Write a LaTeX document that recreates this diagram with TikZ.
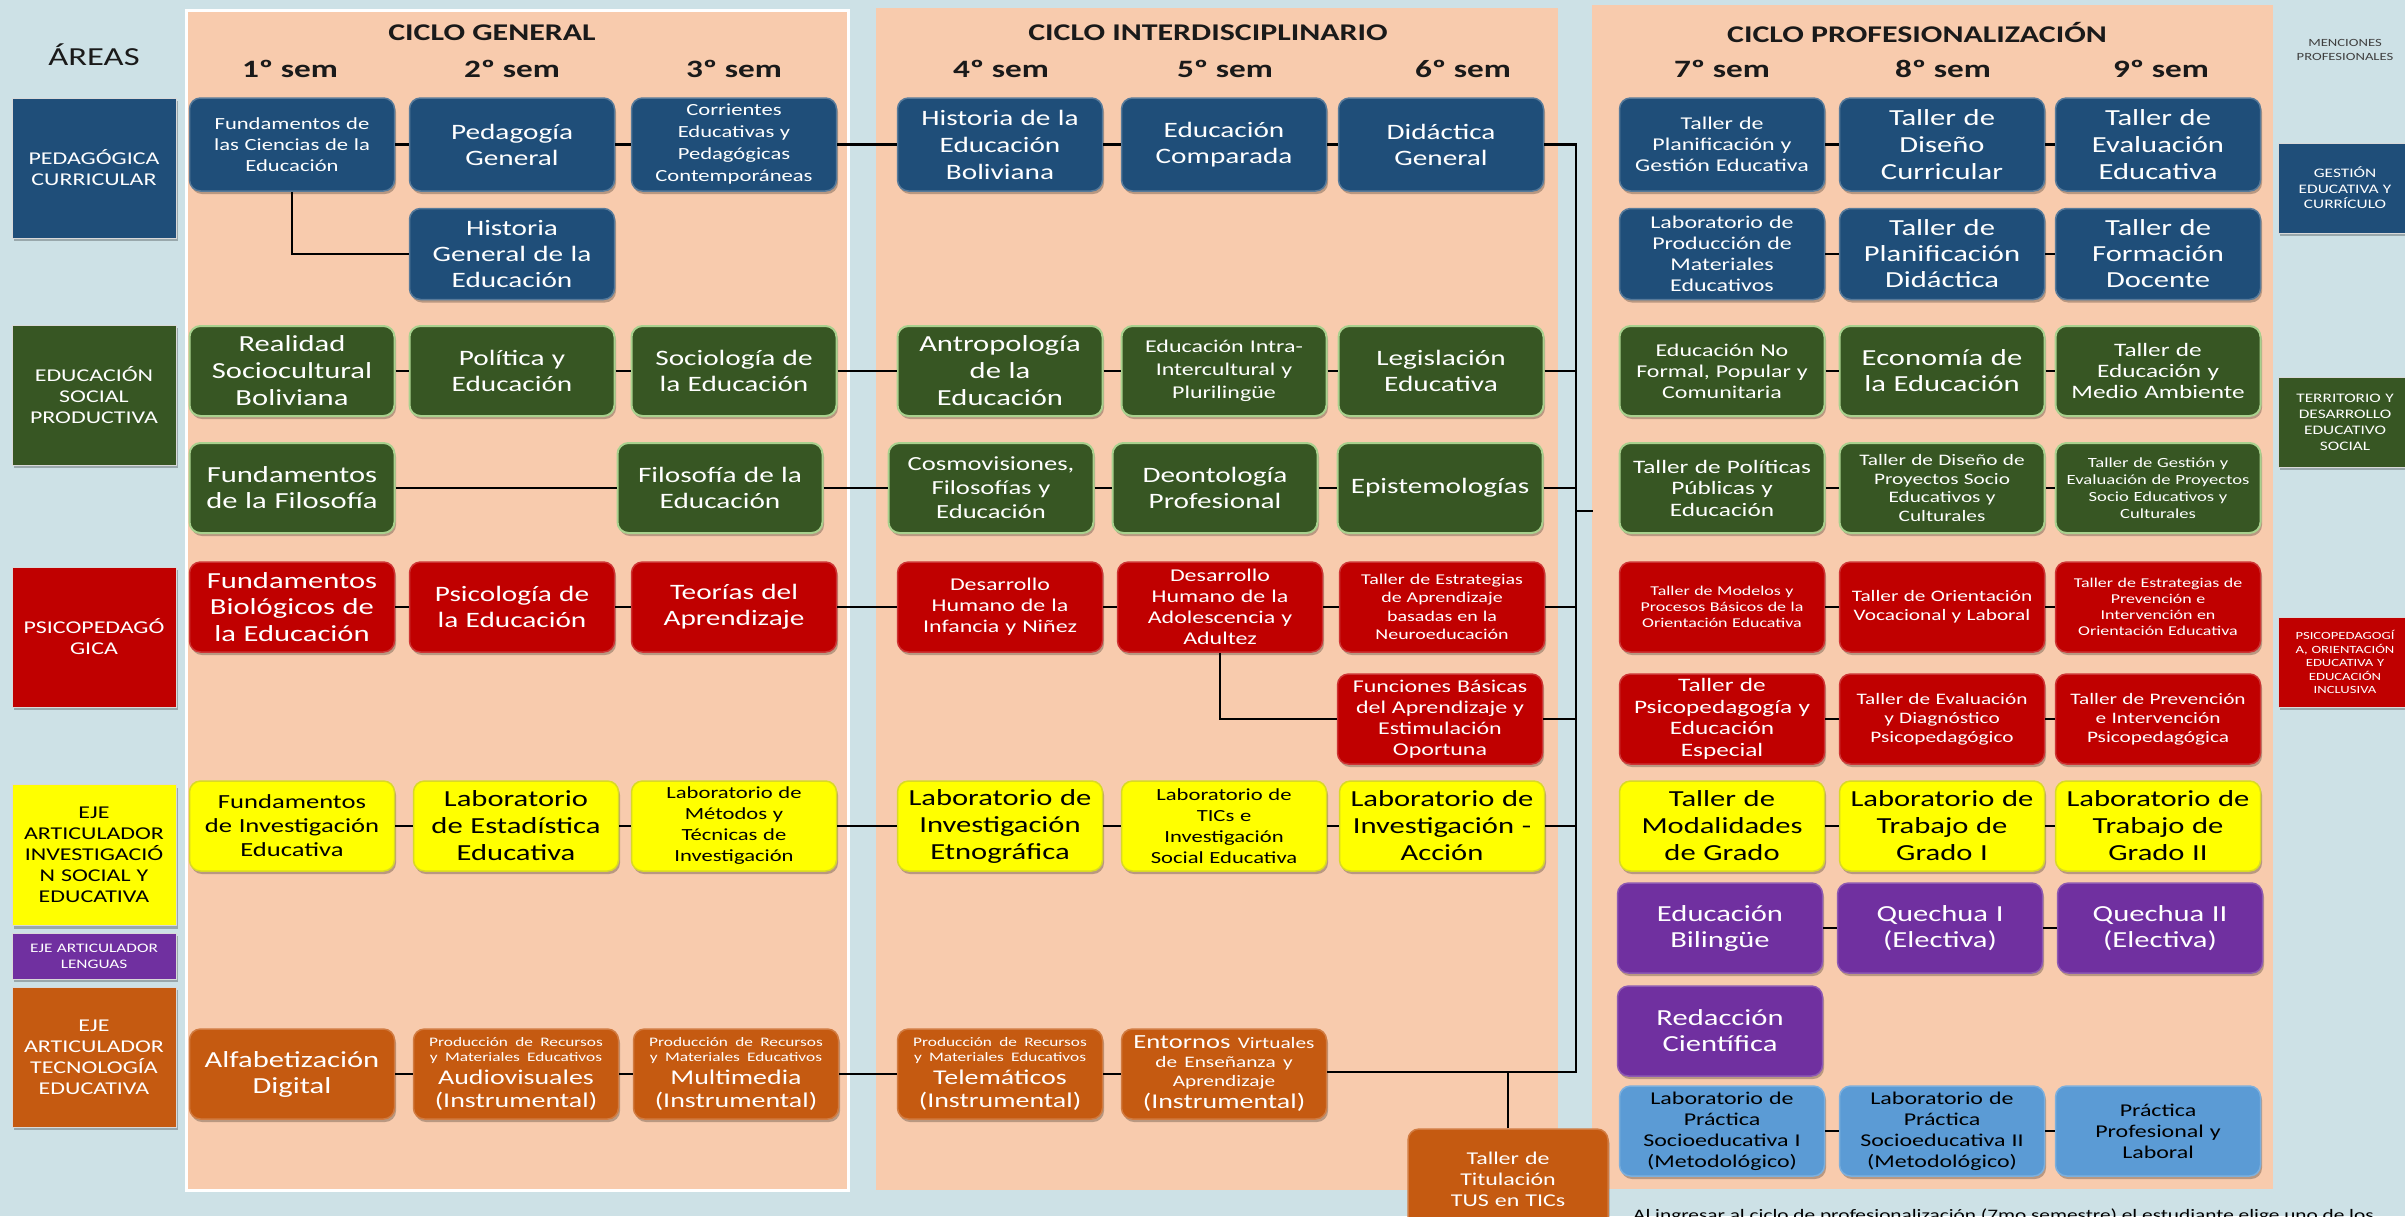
\documentclass[tikz,border=0pt]{standalone}
\usepackage{fontspec}
\setmainfont{Carlito}[FakeStretch=1.33]
\usetikzlibrary{shadows}
\definecolor{bgc}{HTML}{CDE1E6}
\definecolor{panel}{HTML}{F8CBAD}
\definecolor{cblue}{HTML}{1F4E79}
\definecolor{cgreen}{HTML}{375623}
\definecolor{cgreenb}{HTML}{A9D18E}
\definecolor{cred}{HTML}{C00000}
\definecolor{cyel}{HTML}{FFFF00}
\definecolor{cpur}{HTML}{7030A0}
\definecolor{corg}{HTML}{C55A11}
\definecolor{clb}{HTML}{5B9BD5}
\definecolor{txtd}{HTML}{1A1A1A}
\tikzset{
  fz/.style 2 args={font=\fontsize{#1}{#2}\selectfont},
  shd/.style={drop shadow={shadow xshift=1.5pt,shadow yshift=-3pt,opacity=0.25,fill=black}},
  crs/.style={rounded corners=11pt, minimum width=205pt, minimum height=90pt, text width=199pt,
    align=center, inner sep=0pt, fz={22}{26}, shd, line width=1.5pt},
  bxB/.style={crs, fill=cblue, draw=cblue!75!white, text=white},
  bxG/.style={crs, fill=cgreen, draw=cgreenb, line width=2pt, text=white},
  bxR/.style={crs, fill=cred, draw=cred!80!white, text=white},
  bxY/.style={crs, fill=cyel, draw=cyel!70!gray, text=black},
  bxP/.style={crs, fill=cpur, draw=cpur!80!white, text=white},
  bxO/.style={crs, fill=corg, draw=corg!80!white, text=white},
  bxL/.style={crs, fill=clb, draw=clb!80!white, text=black},
  area/.style={minimum width=164pt, minimum height=140pt, text width=160pt, align=center,
    inner sep=0pt, fz={18}{21}, shd, draw=white!70!gray, line width=1pt},
  menc/.style={minimum width=134pt, minimum height=90pt, text width=130pt, align=center,
    inner sep=0pt, fz={13}{15.5}, shd, draw=white!70!gray, line width=1pt, text=white},
  head/.style={font=\fontsize{24}{28}\selectfont\bfseries, text=txtd, inner sep=0pt},
  semh/.style={font=\fontsize{25}{28}\selectfont\bfseries, text=txtd, inner sep=0pt},
  conn/.style={draw=black, line width=2.5pt},
}
\begin{document}
\begin{tikzpicture}[x=1pt,y=-1pt]
\useasboundingbox (0,0) rectangle (2405,1216);
\clip (0,0) rectangle (2405,1216);
\fill[bgc] (0,0) rectangle (2405,1216);
% panels
\fill[panel, draw=white, line width=3pt] (186,10) rectangle (848,1190);
\fill[panel] (876,8) rectangle (1558,1190);
\fill[panel] (1592,5) rectangle (2273,1189);

% headers
\node[fz={26}{30}, text=txtd] (areas) at (94,55) {ÁREAS};
\node[head] (hg) at (492,33) {CICLO GENERAL};
\node[head] (hi) at (1208,33) {CICLO INTERDISCIPLINARIO};
\node[head] (hp) at (1917,33) {CICLO PROFESIONALIZACIÓN};
\node[semh] (s1) at (290,69) {1º sem};
\node[semh] (s2) at (512,69) {2º sem};
\node[semh] (s3) at (734,69) {3º sem};
\node[semh] (s4) at (1001,69) {4º sem};
\node[semh] (s5) at (1225,69) {5º sem};
\node[semh] (s6) at (1463,69) {6º sem};
\node[semh] (s7) at (1722,69) {7º sem};
\node[semh] (s8) at (1943,69) {8º sem};
\node[semh] (s9) at (2161,69) {9º sem};
\node[fz={11}{13.5}, text=black!75, align=center, inner sep=0pt] (menh) at (2345,50) {MENCIONES\\PROFESIONALES};

% area boxes
\node[area, fill=cblue, text=white] (a1) at (94,168) {PEDAGÓGICA\\CURRICULAR};
\node[area, fill=cgreen, text=white] (a2) at (94,395) {EDUCACIÓN\\SOCIAL\\PRODUCTIVA};
\node[area, fill=cred, text=white] (a3) at (94,637) {PSICOPEDAGÓ\\GICA};
\node[area, fill=cyel, text=black, minimum height=141pt] (a4) at (94,855) {EJE\\ARTICULADOR\\INVESTIGACIÓ\\N SOCIAL Y\\EDUCATIVA};
\node[area, fill=cpur, text=white, minimum height=46pt, fz={13}{16}] (a5) at (94,956) {EJE ARTICULADOR\\LENGUAS};
\node[area, fill=corg, text=white] (a6) at (94,1057) {EJE\\ARTICULADOR\\TECNOLOGÍA\\EDUCATIVA};

% menciones
\node[menc, fill=cblue] (m1) at (2345,188) {GESTIÓN\\EDUCATIVA Y\\CURRÍCULO};
\node[menc, fill=cgreen, fz={13}{16}] (m2) at (2345,422) {TERRITORIO Y\\DESARROLLO\\EDUCATIVO\\SOCIAL};
\node[menc, fill=cred, fz={11}{13.5}] (m3) at (2345,662) {PSICOPEDAGOGÍ\\A, ORIENTACIÓN\\EDUCATIVA Y\\EDUCACIÓN\\INCLUSIVA};

% ---- Row 1 (blue)
\node[bxB, fz={17}{21}, minimum height=93pt] (p1) at (292,144.5) {Fundamentos de\\las Ciencias de la\\Educación};
\node[bxB, minimum height=93pt] (p2) at (512,144.5) {Pedagogía\\General};
\node[bxB, fz={17}{22}, minimum height=93pt] (p3) at (734,144.5) {Corrientes\\Educativas y\\Pedagógicas\\Contemporáneas};
\node[bxB, fz={22}{27}, minimum height=93pt] (p4) at (1000,144.5) {Historia de la\\Educación\\Boliviana};
\node[bxB, minimum height=93pt] (p5) at (1224,144.5) {Educación\\Comparada};
\node[bxB, minimum height=93pt] (p6) at (1441,144.5) {Didáctica\\General};
\node[bxB, fz={18}{21}, minimum height=93pt] (p7) at (1722,144.5) {Taller de\\Planificación y\\Gestión Educativa};
\node[bxB, fz={23}{27}, minimum height=93pt] (p8) at (1942,144.5) {Taller de\\Diseño\\Curricular};
\node[bxB, fz={23}{27}, minimum height=93pt] (p9) at (2158,144.5) {Taller de\\Evaluación\\Educativa};

% ---- Row 2 (blue)
\node[bxB, fz={22}{26}, minimum height=91pt] (h2) at (512,254) {Historia\\General de la\\Educación};
\node[bxB, fz={18}{21}, minimum height=91pt] (q7) at (1722,254) {Laboratorio de\\Producción de\\Materiales\\Educativos};
\node[bxB, fz={23}{26}, minimum height=91pt] (q8) at (1942,254) {Taller de\\Planificación\\Didáctica};
\node[bxB, fz={23}{26}, minimum height=91pt] (q9) at (2158,254) {Taller de\\Formación\\Docente};

% ---- Row 3 (green)
\node[bxG, fz={23}{27}] (g1) at (292,371) {Realidad\\Sociocultural\\Boliviana};
\node[bxG] (g2) at (512,371) {Política y\\Educación};
\node[bxG] (g3) at (734,371) {Sociología de\\la Educación};
\node[bxG, fz={23}{27}] (g4) at (1000,371) {Antropología\\de la\\Educación};
\node[bxG, fz={18}{23}] (g5) at (1224,371) {Educación Intra-\\Intercultural y\\Plurilingüe};
\node[bxG] (g6) at (1441,371) {Legislación\\Educativa};
\node[bxG, fz={18}{21}] (g7) at (1722,371) {Educación No\\Formal, Popular y\\Comunitaria};
\node[bxG, fz={23}{26}] (g8) at (1942,371) {Economía de\\la Educación};
\node[bxG, fz={19}{21}] (g9) at (2158,371) {Taller de\\Educación y\\Medio Ambiente};

% ---- Row 4 (green)
\node[bxG, fz={23}{26}] (f1) at (292,488) {Fundamentos\\de la Filosofía};
\node[bxG] (f3) at (720,488) {Filosofía de la\\Educación};
\node[bxG, fz={20}{24}] (f4) at (991,488) {Cosmovisiones,\\Filosofías y\\Educación};
\node[bxG, fz={22}{26}] (f5) at (1215,488) {Deontología\\Profesional};
\node[bxG] (f6) at (1440,488) {Epistemologías};
\node[bxG, fz={19}{21.5}] (f7) at (1722,488) {Taller de Políticas\\Públicas y\\Educación};
\node[bxG, fz={16}{18.5}] (f8) at (1942,488) {Taller de Diseño de\\Proyectos Socio\\Educativos y\\Culturales};
\node[bxG, fz={14}{17}] (f9) at (2158,488) {Taller de Gestión y\\Evaluación de Proyectos\\Socio Educativos y\\Culturales};

% ---- Row 5 (red)
\node[bxR, fz={23}{26.5}] (r1) at (292,607) {Fundamentos\\Biológicos de\\la Educación};
\node[bxR] (r2) at (512,607) {Psicología de\\la Educación};
\node[bxR] (r3) at (734,607) {Teorías del\\Aprendizaje};
\node[bxR, fz={18}{21}] (r4) at (1000,607) {Desarrollo\\Humano de la\\Infancia y Niñez};
\node[bxR, fz={18}{21}] (r5) at (1220,607) {Desarrollo\\Humano de la\\Adolescencia y\\Adultez};
\node[bxR, fz={15}{18.5}] (r6) at (1442,607) {Taller de Estrategias\\de Aprendizaje\\basadas en la\\Neuroeducación};
\node[bxR, fz={13.5}{16}] (r7) at (1722,607) {Taller de Modelos y\\Procesos Básicos de la\\Orientación Educativa};
\node[bxR, fz={16}{19}] (r8) at (1942,607) {Taller de Orientación\\Vocacional y Laboral};
\node[bxR, fz={13.5}{16}] (r9) at (2158,607) {Taller de Estrategias de\\Prevención e\\Intervención en\\Orientación Educativa};

% ---- Row 6 (red)
\node[bxR, fz={18}{21}] (s6b) at (1440,719) {Funciones Básicas\\del Aprendizaje y\\Estimulación\\Oportuna};
\node[bxR, fz={19}{21.5}] (s7b) at (1722,719) {Taller de\\Psicopedagogía y\\Educación\\Especial};
\node[bxR, fz={16}{19}] (s8b) at (1942,719) {Taller de Evaluación\\y Diagnóstico\\Psicopedagógico};
\node[bxR, fz={16}{19}] (s9b) at (2158,719) {Taller de Prevención\\e Intervención\\Psicopedagógica};

% ---- Row 7 (yellow)
\node[bxY, fz={20}{24}] (y1) at (292,826) {Fundamentos\\de Investigación\\Educativa};
\node[bxY, fz={23}{27}] (y2) at (516,826) {Laboratorio\\de Estadística\\Educativa};
\node[bxY, fz={17}{21}] (y3) at (734,826) {Laboratorio de\\Métodos y\\Técnicas de\\Investigación};
\node[bxY, fz={23}{27}] (y4) at (1000,826) {Laboratorio de\\Investigación\\Etnográfica};
\node[bxY, fz={17}{21}] (y5) at (1224,826) {Laboratorio de\\TICs e\\Investigación\\Social Educativa};
\node[bxY, fz={23}{27}] (y6) at (1442,826) {Laboratorio de\\Investigación -\\Acción};
\node[bxY, fz={23}{27}] (y7) at (1722,826) {Taller de\\Modalidades\\de Grado};
\node[bxY, fz={23}{27}] (y8) at (1942,826) {Laboratorio de\\Trabajo de\\Grado I};
\node[bxY, fz={23}{27}] (y9) at (2158,826) {Laboratorio de\\Trabajo de\\Grado II};

% ---- Row 8/9 (purple)
\node[bxP, fz={23}{26}] (l7) at (1720,928) {Educación\\Bilingüe};
\node[bxP, fz={23}{26}] (l8) at (1940,928) {Quechua I\\(Electiva)};
\node[bxP, fz={23}{26}] (l9) at (2160,928) {Quechua II\\(Electiva)};
\node[bxP, fz={23}{26}] (l7b) at (1720,1031) {Redacción\\Científica};

% ---- Row 10 (orange)
\node[bxO, fz={23}{26}] (t1) at (292,1074) {Alfabetización\\Digital};
\node[bxO] (t2) at (516,1074) {{\fontsize{13}{15.5}\selectfont Producción de Recursos\\y Materiales Educativos\par}{\fontsize{21}{23}\selectfont Audiovisuales\\(Instrumental)\par}};
\node[bxO] (t3) at (736,1074) {{\fontsize{13}{15.5}\selectfont Producción de Recursos\\y Materiales Educativos\par}{\fontsize{21}{23}\selectfont Multimedia\\(Instrumental)\par}};
\node[bxO] (t4) at (1000,1074) {{\fontsize{13}{15.5}\selectfont Producción de Recursos\\y Materiales Educativos\par}{\fontsize{21}{23}\selectfont Telemáticos\\(Instrumental)\par}};
\node[bxO] (t5) at (1224,1074) {{\fontsize{16}{19}\selectfont{\fontsize{20}{20}\selectfont Entornos} Virtuales\\de Enseñanza y\\Aprendizaje\par}{\fontsize{21}{22}\selectfont (Instrumental)\par}};

% ---- Row 11 (light blue)
\node[bxL, fz={18}{21}] (b7) at (1722,1131) {Laboratorio de\\Práctica\\Socioeducativa I\\(Metodológico)};
\node[bxL, fz={18}{21}] (b8) at (1942,1131) {Laboratorio de\\Práctica\\Socioeducativa II\\(Metodológico)};
\node[bxL, fz={18}{21}] (b9) at (2158,1131) {Práctica\\Profesional y\\Laboral};

% Taller de titulacion
\node[bxO, fz={18}{21}, minimum width=200pt, minimum height=100pt, text width=194pt] (tit) at (1508,1179) {Taller de\\Titulación\\TUS en TICs};

% bottom note
\node[fz={16}{19}, text=black, anchor=base west, inner sep=0pt] (note) at (1633,1220) {Al ingresar al ciclo de profesionalización (7mo semestre) el estudiante elige uno de los};

% ---- connectors
\coordinate (bus1) at (1576,144.5);
\coordinate (bus2) at (1576,1072);
\coordinate (stub) at (1593,511);
\draw[conn] (p1) -- (p2); \draw[conn] (p2) -- (p3); \draw[conn] (p3) -- (p4);
\draw[conn] (p4) -- (p5); \draw[conn] (p5) -- (p6);
\draw[conn] (p6.east) -- (bus1) -- (bus2) -- (bus2 -| t5.east);
\draw[conn] (p1.south) |- (h2.west);
\draw[conn] (p7) -- (p8); \draw[conn] (p8) -- (p9);
\draw[conn] (q7) -- (q8); \draw[conn] (q8) -- (q9);
\draw[conn] (g1) -- (g2); \draw[conn] (g2) -- (g3); \draw[conn] (g3) -- (g4);
\draw[conn] (g4) -- (g5); \draw[conn] (g5) -- (g6); \draw[conn] (g6.east) -- (g6.east -| bus1);
\draw[conn] (g7) -- (g8); \draw[conn] (g8) -- (g9);
\draw[conn] (f1) -- (f3); \draw[conn] (f3) -- (f4); \draw[conn] (f4) -- (f5);
\draw[conn] (f5) -- (f6); \draw[conn] (f6.east) -- (f6.east -| bus1);
\draw[conn] (f7) -- (f8); \draw[conn] (f8) -- (f9);
\draw[conn] (stub -| bus1) -- (stub);
\draw[conn] (r1) -- (r2); \draw[conn] (r2) -- (r3); \draw[conn] (r3) -- (r4);
\draw[conn] (r4) -- (r5); \draw[conn] (r5) -- (r6); \draw[conn] (r6.east) -- (r6.east -| bus1);
\draw[conn] (r7) -- (r8); \draw[conn] (r8) -- (r9);
\draw[conn] (r5.south) |- (s6b.west); \draw[conn] (s6b.east) -- (s6b.east -| bus1);
\draw[conn] (s7b) -- (s8b); \draw[conn] (s8b) -- (s9b);
\draw[conn] (y1) -- (y2); \draw[conn] (y2) -- (y3); \draw[conn] (y3) -- (y4);
\draw[conn] (y4) -- (y5); \draw[conn] (y5) -- (y6); \draw[conn] (y6.east) -- (y6.east -| bus1);
\draw[conn] (y7) -- (y8); \draw[conn] (y8) -- (y9);
\draw[conn] (l7) -- (l8); \draw[conn] (l8) -- (l9);
\draw[conn] (t1) -- (t2); \draw[conn] (t2) -- (t3); \draw[conn] (t3) -- (t4); \draw[conn] (t4) -- (t5);
\draw[conn] (b7) -- (b8); \draw[conn] (b8) -- (b9);
\draw[conn] (tit.north) -- (tit.north |- bus2);
\end{tikzpicture}
\end{document}
